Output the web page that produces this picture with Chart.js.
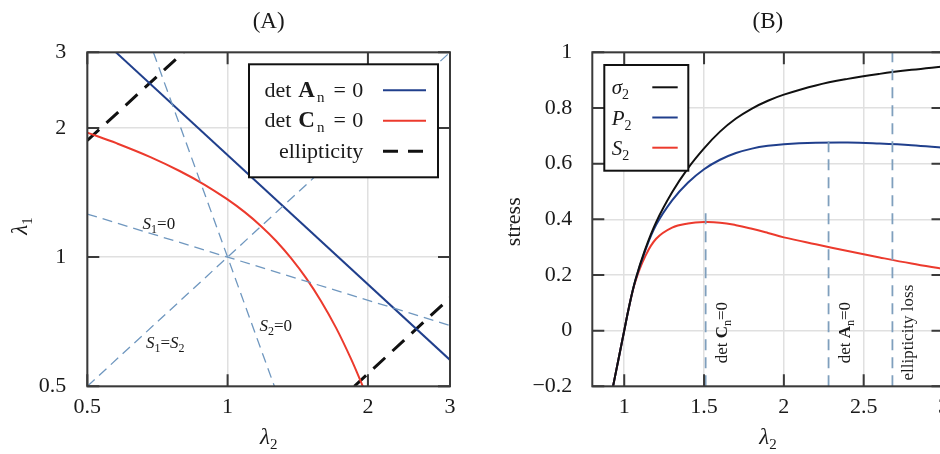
<!DOCTYPE html>
<html>
<head>
<meta charset="utf-8">
<script src="https://cdn.jsdelivr.net/npm/chart.js@4.4.1/dist/chart.umd.min.js"></script>
<style>
html, body { margin: 0; padding: 0; background: #fff; overflow: hidden; width: 940px; height: 454px; }
#wrapA { position: absolute; left: 0; top: 0; width: 470px; height: 454px; }
#wrapB { position: absolute; left: 470px; top: 0; width: 490px; height: 454px; }
</style>
</head>
<body>
<div id="wrapA"><canvas id="chartA" width="470" height="454"></canvas></div>
<div id="wrapB"><canvas id="chartB" width="490" height="454"></canvas></div>
<script>
// ---- panel A : (lambda2, lambda1) plane, log-log ----
const ticksA = [0.5, 1, 2, 3];
const detA_l2 = [0.576, 3];
const detA_l1 = [3, 0.576];
const detC_l2 = [0.5, 0.579, 0.683, 0.789, 0.893, 0.994, 1.09, 1.18, 1.271, 1.368, 1.474, 1.587, 1.71, 1.84, 1.95];
const detC_l1 = [1.95, 1.84, 1.71, 1.587, 1.474, 1.368, 1.271, 1.18, 1.09, 0.994, 0.893, 0.789, 0.683, 0.579, 0.5];
const ellUp_l2 = [0.5, 0.804];
const ellUp_l1 = [1.87, 3];
const ellDown_l2 = [1.87, 3];
const ellDown_l1 = [0.5, 0.804];
const s1eqs2_l2 = [0.5, 3];
const s1eqs2_l1 = [0.5, 3];
const s1zero_l2 = [0.5, 3];
const s1zero_l1 = [1.26, 0.693];
const s2zero_l2 = [0.693, 1.26];
const s2zero_l1 = [3, 0.5];

// ---- panel B : stresses vs lambda2 ----
const lam2   = [0.93, 0.965, 1.0, 1.03, 1.07, 1.13, 1.2, 1.3, 1.4, 1.5, 1.6, 1.7, 1.8, 1.9, 2.0, 2.2, 2.4, 2.6, 2.8, 3.0];
const sigma2 = [-0.2, -0.1, 0, 0.085, 0.182, 0.29, 0.39, 0.497, 0.584, 0.655, 0.715, 0.762, 0.798, 0.826, 0.848, 0.881, 0.9045, 0.9225, 0.937, 0.949];
const P2     = [-0.2, -0.1, 0, 0.085, 0.181, 0.285, 0.38, 0.468, 0.532, 0.58, 0.614, 0.638, 0.654, 0.664, 0.67, 0.675, 0.676, 0.672, 0.666, 0.657];
const S2     = [-0.2, -0.1, 0, 0.085, 0.177, 0.265, 0.33, 0.37, 0.385, 0.39, 0.388, 0.379, 0.366, 0.351, 0.335, 0.31, 0.286, 0.263, 0.241, 0.221];
const ticksBx = [1, 1.5, 2, 2.5, 3];
const ticksBy = [-0.2, 0, 0.2, 0.4, 0.6, 0.8, 1];
const markerX   = [1.51, 2.28, 2.68];
const markerTop = [0.437, 0.70, 1.0];

const serif = "'Liberation Serif', 'Times New Roman', serif";
const ink = '#1a1a1a';
const navy = '#203f8c';
const red = '#ec3a2d';
const pale = '#6f97bf';
const F = (size, style) => (style ? style + ' ' : '') + size + 'px ' + serif;

function pts(xs, ys) { return xs.map((x, i) => ({ x: x, y: ys[i] })); }

// draw a run of text pieces (for subscripts, bold letters...)
function rich(ctx, parts, x, y, align) {
  let w = 0;
  parts.forEach(p => { ctx.font = p.f; p.w = ctx.measureText(p.t).width + (p.gap || 0); w += p.w; });
  let cx = align === 'right' ? x - w : align === 'center' ? x - w / 2 : x;
  ctx.textBaseline = 'alphabetic';
  ctx.textAlign = 'left';
  ctx.fillStyle = ink;
  parts.forEach(p => { ctx.font = p.f; ctx.fillText(p.t, cx, y + (p.dy || 0)); cx += p.w; });
}

// frame with inward ticks on all four sides
const framePlugin = {
  id: 'frame',
  afterDatasetsDraw(chart) {
    const ctx = chart.ctx, a = chart.chartArea, x = chart.scales.x, y = chart.scales.y;
    const L = 12;
    ctx.save();
    ctx.strokeStyle = '#3a3a3a';
    ctx.lineWidth = 2;
    ctx.beginPath();
    x.ticks.forEach(t => {
      const p = x.getPixelForValue(t.value);
      ctx.moveTo(p, a.bottom); ctx.lineTo(p, a.bottom - L);
      ctx.moveTo(p, a.top); ctx.lineTo(p, a.top + L);
    });
    y.ticks.forEach(t => {
      const p = y.getPixelForValue(t.value);
      ctx.moveTo(a.left, p); ctx.lineTo(a.left + L, p);
      ctx.moveTo(a.right, p); ctx.lineTo(a.right - L, p);
    });
    ctx.stroke();
    ctx.strokeRect(a.left, a.top, a.right - a.left, a.bottom - a.top);
    ctx.restore();
  }
};

const lamParts = n => [{ t: 'λ', f: F(23, 'italic') }, { t: n, f: F(15), dy: 5 }];

function axisTitles(chart, xParts, yParts, yBaseX, yCenter) {
  const ctx = chart.ctx, a = chart.chartArea;
  ctx.save();
  rich(ctx, xParts, (a.left + a.right) / 2, 443.5, 'center');
  ctx.translate(yBaseX, yCenter);
  ctx.rotate(-Math.PI / 2);
  rich(ctx, yParts, 0, 0, 'center');
  ctx.restore();
}

const annotA = {
  id: 'annotA',
  afterDraw(chart) {
    const ctx = chart.ctx, a = chart.chartArea, x = chart.scales.x, y = chart.scales.y;
    // region labels
    const labels = [
      { at: [0.657, 1.161], parts: [{ t: 'S', f: F(17, 'italic') }, { t: '1', f: F(12), dy: 4 }, { t: '=0', f: F(17) }] },
      { at: [1.17, 0.674], parts: [{ t: 'S', f: F(17, 'italic') }, { t: '2', f: F(12), dy: 4 }, { t: '=0', f: F(17) }] },
      { at: [0.668, 0.613], parts: [{ t: 'S', f: F(17, 'italic') }, { t: '1', f: F(12), dy: 4 }, { t: '=', f: F(17) }, { t: 'S', f: F(17, 'italic') }, { t: '2', f: F(12), dy: 4 }] }
    ];
    labels.forEach(l => rich(ctx, l.parts, x.getPixelForValue(l.at[0]), y.getPixelForValue(l.at[1]), 'left'));

    // legend
    const bx = a.right - 12 - 189, by = a.top + 12;
    ctx.save();
    ctx.fillStyle = '#fff';
    ctx.fillRect(bx, by, 189, 113);
    ctx.strokeStyle = '#111';
    ctx.lineWidth = 2;
    ctx.strokeRect(bx, by, 189, 113);
    const detRow = L => [{ t: 'det', f: F(22), gap: 7 }, { t: L, f: F(23, 'bold'), gap: 2 }, { t: 'n', f: F(15), dy: 5, gap: 9 }, { t: '=', f: F(22), gap: 6.5 }, { t: '0', f: F(22) }];
    const rows = [
      { parts: detRow('A'), color: navy, dash: [], lw: 2 },
      { parts: detRow('C'), color: red, dash: [], lw: 2 },
      { parts: [{ t: 'ellipticity', f: F(22) }], color: '#111', dash: [15, 10], lw: 3 }
    ];
    rows.forEach((r, i) => {
      const ly = by + 26 + i * 30.5;
      rich(ctx, r.parts, bx + 114.3, ly + 6.5, 'right');
      ctx.strokeStyle = r.color;
      ctx.lineWidth = r.lw;
      ctx.setLineDash(r.dash);
      ctx.beginPath();
      ctx.moveTo(bx + 134, ly); ctx.lineTo(bx + 177, ly);
      ctx.stroke();
    });
    ctx.restore();
    axisTitles(chart, lamParts('2'), lamParts('1'), 27, 226);
  }
};

const annotB = {
  id: 'annotB',
  afterDraw(chart) {
    const ctx = chart.ctx, a = chart.chartArea, x = chart.scales.x, y = chart.scales.y;
    // labels along the vertical markers
    const names = [
      [{ t: 'det ', f: F(17) }, { t: 'C', f: F(17, 'bold') }, { t: 'n', f: F(12), dy: 4 }, { t: '=0', f: F(17) }],
      [{ t: 'det ', f: F(17) }, { t: 'A', f: F(17, 'bold') }, { t: 'n', f: F(12), dy: 4 }, { t: '=0', f: F(17) }],
      [{ t: 'ellipticity loss', f: F(17) }]
    ];
    names.forEach((parts, i) => {
      ctx.save();
      ctx.translate(x.getPixelForValue(markerX[i]) + 21, y.getPixelForValue(0) + 2);
      ctx.rotate(-Math.PI / 2);
      rich(ctx, parts, 0, 0, 'center');
      ctx.restore();
    });

    // legend
    const bx = a.left + 12, by = a.top + 12.7, w = 84, h = 105.7;
    ctx.save();
    ctx.fillStyle = '#fff';
    ctx.fillRect(bx, by, w, h);
    ctx.strokeStyle = '#111';
    ctx.lineWidth = 2;
    ctx.strokeRect(bx, by, w, h);
    const rows = [
      { s: 'σ', color: '#111' },
      { s: 'P', color: navy },
      { s: 'S', color: red }
    ];
    rows.forEach((r, i) => {
      const ly = by + 22.3 + i * 30.2;
      rich(ctx, [{ t: r.s, f: F(21, 'italic') }, { t: '2', f: F(14), dy: 5 }], bx + 7.4, ly + 7, 'left');
      ctx.strokeStyle = r.color;
      ctx.lineWidth = 2;
      ctx.beginPath();
      ctx.moveTo(bx + 48, ly); ctx.lineTo(bx + 73.4, ly);
      ctx.stroke();
    });
    ctx.restore();

    // axis titles
    ctx.save();
    rich(ctx, lamParts('2'), (a.left + a.right) / 2, 443.5, 'center');
    ctx.translate(50, 221.7);
    ctx.rotate(-Math.PI / 2);
    rich(ctx, [{ t: 'stress', f: F(22) }], 0, 0, 'center');
    ctx.restore();
  }
};

function lineSet(data, color, width, dash, extra) {
  return Object.assign({
    data: data, showLine: true, borderColor: color, borderWidth: width,
    borderDash: dash || [], pointRadius: 0, fill: false
  }, extra || {});
}

function scaleOpts(kind, min, max, tickList, fmt, fit) {
  return {
    type: kind, min: min, max: max,
    afterBuildTicks: s => { s.ticks = tickList.map(v => ({ value: v })); },
    afterFit: fit,
    ticks: { callback: fmt, font: { family: serif, size: 22 }, color: ink, autoSkip: false, maxRotation: 0 },
    grid: { color: '#e0e0e0', lineWidth: 1.5, drawTicks: false },
    border: { display: false }
  };
}

const titleOpts = txt => ({
  display: true, text: txt, fullSize: false, color: ink,
  font: { family: serif, size: 23, weight: 'normal' },
  padding: { top: 8, bottom: 16.7 }
});

const smooth = { tension: 0.4 };

// chart A
const xA = scaleOpts('logarithmic', 0.5, 3, ticksA, v => String(v), s => { s.height = 67.7; });
xA.ticks.padding = 8;
const yA = scaleOpts('logarithmic', 0.5, 3, ticksA, v => String(v), s => { s.width = 87.3; });
yA.ticks.padding = 21;

new Chart(document.getElementById('chartA'), {
  type: 'scatter',
  data: {
    datasets: [
      lineSet(pts(s1eqs2_l2, s1eqs2_l1), pale, 1.3, [10, 6]),
      lineSet(pts(s1zero_l2, s1zero_l1), pale, 1.3, [10, 6]),
      lineSet(pts(s2zero_l2, s2zero_l1), pale, 1.3, [10, 6]),
      lineSet(pts(detA_l2, detA_l1), navy, 2),
      lineSet(pts(detC_l2, detC_l1), red, 2, [], smooth),
      lineSet(pts(ellUp_l2, ellUp_l1), '#111', 3, [16, 10]),
      lineSet(pts(ellDown_l2, ellDown_l1), '#111', 3, [16, 10])
    ]
  },
  options: {
    responsive: false, animation: false, devicePixelRatio: 1,
    layout: { padding: { left: 0, right: 20, top: 0, bottom: 0 } },
    plugins: { legend: { display: false }, tooltip: { enabled: false }, title: titleOpts('(A)') },
    scales: { x: xA, y: yA }
  },
  plugins: [framePlugin, annotA]
});

// chart B
const fmtB = v => v === 0 ? '0' : v < 0 ? '\u2212' + Math.abs(v) : String(v);
const xB = scaleOpts('linear', 0.8, 3, ticksBx, v => String(v), s => { s.height = 67.7; });
xB.ticks.padding = 8;
const yB = scaleOpts('linear', -0.2, 1, ticksBy, fmtB, s => { s.width = 122.3; });
yB.ticks.padding = 20;

const markerSets = markerX.map((mx, i) =>
  lineSet([{ x: mx, y: -0.2 }, { x: mx, y: markerTop[i] }], '#7f9fbd', 1.8, [11, 7]));

new Chart(document.getElementById('chartB'), {
  type: 'scatter',
  data: {
    datasets: markerSets.concat([
      lineSet(pts(lam2, sigma2), '#111', 2, [], smooth),
      lineSet(pts(lam2, P2), navy, 2, [], smooth),
      lineSet(pts(lam2, S2), red, 2, [], smooth)
    ])
  },
  options: {
    responsive: false, animation: false, devicePixelRatio: 1,
    layout: { padding: { left: 0, right: 16.5, top: 0, bottom: 0 } },
    plugins: { legend: { display: false }, tooltip: { enabled: false }, title: titleOpts('(B)') },
    scales: { x: xB, y: yB }
  },
  plugins: [framePlugin, annotB]
});
</script>
</body>
</html>
